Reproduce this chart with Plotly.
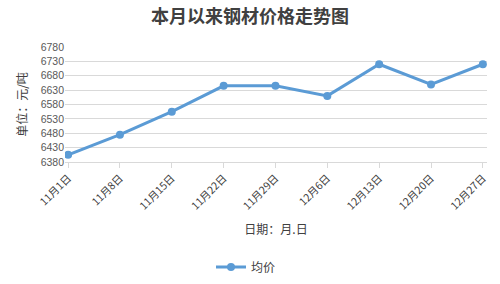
import plotly.graph_objects as go

dates = ["11月1日", "11月8日", "11月15日", "11月22日", "11月29日",
         "12月6日", "12月13日", "12月20日", "12月27日"]
avg_price = [6405, 6475, 6555, 6645, 6645, 6610, 6720, 6650, 6720]
y_ticks = [6380, 6430, 6480, 6530, 6580, 6630, 6680, 6730, 6780]

FONT = "Noto Sans CJK SC, Liberation Sans, sans-serif"
NUMFONT = "Liberation Sans, Noto Sans CJK SC, sans-serif"
W, H = 500, 284
L, R, T, B = 65, 13, 47, 122

fig = go.Figure()
fig.add_trace(go.Scatter(
    x=dates, y=avg_price, mode="lines+markers", name="均价",
    line=dict(color="#5b9bd5", width=3),
    marker=dict(color="#5b9bd5", size=8),
))

fig.update_layout(
    width=W, height=H,
    margin=dict(l=L, r=R, t=T, b=B, autoexpand=False),
    paper_bgcolor="white", plot_bgcolor="white",
    font=dict(family=FONT, color="#595959", size=11),
    title=dict(text="<b>本月以来钢材价格走势图</b>", x=0.5, xanchor="center",
               xref="container",
               y=1 - 17 / H, yanchor="middle",
               font=dict(size=18, color="#404040", family=FONT)),
    showlegend=True,
    legend=dict(orientation="h", x=0.492, xanchor="center", xref="container",
                y=1 - 267 / H, yanchor="middle", yref="container",
                font=dict(size=12, color="#404040")),
    xaxis=dict(
        type="category", range=[-0.06, 8.08], automargin=False,
        showgrid=False, showline=True, linecolor="#d9d9d9", linewidth=1,
        ticks="outside", ticklen=5, tickcolor="#d9d9d9",
        tickangle=-45, tickfont=dict(size=10.5, color="#404040", family=FONT),
        title=dict(text="日期：月.日", font=dict(size=12, color="#404040"),
                   standoff=14),
    ),
    yaxis=dict(
        range=[6380, 6780], tickvals=y_ticks, automargin=False,
        showgrid=True, gridcolor="#d9d9d9", gridwidth=1,
        zeroline=False, showline=False, ticks="",
        tickfont=dict(size=10.5, color="#595959", family=NUMFONT),
        title=dict(text="单位：元/吨", font=dict(size=12, color="#404040"),
                   standoff=10),
    ),
)

fig.write_html("out.html")
